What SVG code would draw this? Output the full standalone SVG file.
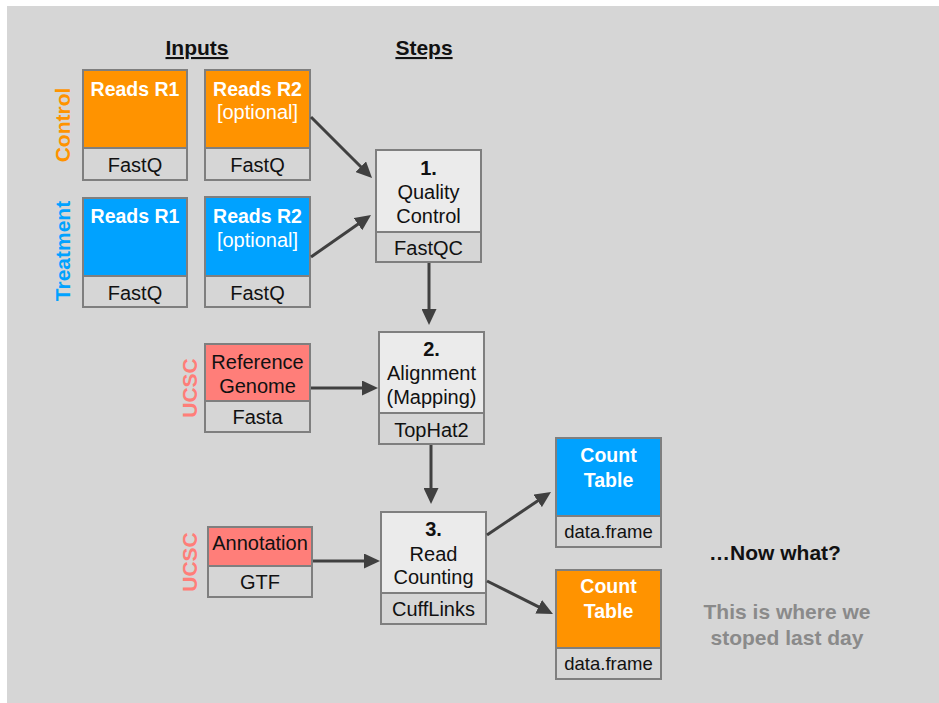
<svg xmlns="http://www.w3.org/2000/svg" width="939" height="703" viewBox="0 0 939 703">
<defs>
<style>
text{font-family:"Liberation Sans",Arial,Helvetica,sans-serif;}
.box{stroke:#7f7f7f;stroke-width:2;}
.sub{fill:#d6d6d6;}
.step{fill:#ebebeb;}
.or{fill:#ff9300;}
.bl{fill:#00a2ff;}
.rd{fill:#ff7e79;}
.wt{fill:#ffffff;font-weight:bold;font-size:19.5px;text-anchor:middle;}
.wn{fill:#ffffff;font-size:20px;text-anchor:middle;}
.bk{fill:#111;font-size:20px;text-anchor:middle;}
.bkb{fill:#111;font-size:20px;font-weight:bold;text-anchor:middle;}
.df{fill:#111;font-size:18.5px;text-anchor:middle;}
.hdr{fill:#111;font-size:21px;font-weight:bold;text-anchor:middle;text-decoration:underline;}
.side{font-size:21px;font-weight:bold;text-anchor:middle;}
.conn{stroke:#404040;stroke-width:3;fill:none;marker-end:url(#ah);}
</style>
<marker id="ah" markerUnits="userSpaceOnUse" markerWidth="16" markerHeight="15" refX="10" refY="7.5" orient="auto" viewBox="0 0 16 15">
<path d="M0,0 L16,7.5 L0,15 z" fill="#404040"/>
</marker>
</defs>
<rect x="7" y="6" width="932" height="697" fill="#d6d6d6"/>

<text class="hdr" x="197" y="55">Inputs</text>
<text class="hdr" x="424" y="55">Steps</text>

<text class="side" fill="#ff9300" transform="translate(70,125) rotate(-90)">Control</text>
<text class="side" fill="#00a2ff" transform="translate(70,251) rotate(-90)">Treatment</text>
<text class="side" fill="#ff7e79" transform="translate(197,388) rotate(-90)">UCSC</text>
<text class="side" fill="#ff7e79" transform="translate(197,562) rotate(-90)">UCSC</text>

<g id="control-r1">
<rect class="box or" x="83" y="70" width="104" height="78"/>
<rect class="box sub" x="83" y="148" width="104" height="32"/>
<text class="wt" x="135" y="96">Reads R1</text>
<text class="bk" x="135" y="172">FastQ</text>
</g>
<g id="control-r2">
<rect class="box or" x="205" y="70" width="105" height="78"/>
<rect class="box sub" x="205" y="148" width="105" height="32"/>
<text class="wt" x="257.5" y="96">Reads R2</text>
<text class="wn" x="257.5" y="119">[optional]</text>
<text class="bk" x="257.5" y="172">FastQ</text>
</g>
<g id="treatment-r1">
<rect class="box bl" x="83" y="198" width="104" height="78"/>
<rect class="box sub" x="83" y="276" width="104" height="31"/>
<text class="wt" x="135" y="223">Reads R1</text>
<text class="bk" x="135" y="300">FastQ</text>
</g>
<g id="treatment-r2">
<rect class="box bl" x="205" y="197" width="105" height="79"/>
<rect class="box sub" x="205" y="276" width="105" height="31"/>
<text class="wt" x="257.5" y="223">Reads R2</text>
<text class="wn" x="257.5" y="247">[optional]</text>
<text class="bk" x="257.5" y="300">FastQ</text>
</g>

<g id="step1">
<rect class="box step" x="376" y="150" width="105" height="82"/>
<rect class="box sub" x="376" y="232" width="105" height="30"/>
<text class="bkb" x="428.5" y="175">1.</text>
<text class="bk" x="428.5" y="199">Quality</text>
<text class="bk" x="428.5" y="223">Control</text>
<text class="bk" x="428.5" y="255">FastQC</text>
</g>

<g id="reference">
<rect class="box rd" x="205" y="344" width="105" height="57"/>
<rect class="box sub" x="205" y="401" width="105" height="31"/>
<text class="bk" x="257.5" y="369">Reference</text>
<text class="bk" x="257.5" y="393">Genome</text>
<text class="bk" x="257.5" y="424">Fasta</text>
</g>

<g id="step2">
<rect class="box step" x="379" y="332" width="105" height="81"/>
<rect class="box sub" x="379" y="413" width="105" height="31"/>
<text class="bkb" x="431.5" y="356">2.</text>
<text class="bk" x="431.5" y="380">Alignment</text>
<text class="bk" x="431.5" y="404">(Mapping)</text>
<text class="bk" x="431.5" y="437">TopHat2</text>
</g>

<g id="annotation">
<rect class="box rd" x="208" y="527" width="104" height="39"/>
<rect class="box sub" x="208" y="566" width="104" height="31"/>
<text class="bk" x="260" y="550">Annotation</text>
<text class="bk" x="260" y="589">GTF</text>
</g>

<g id="step3">
<rect class="box step" x="381" y="512" width="105" height="81"/>
<rect class="box sub" x="381" y="593" width="105" height="31"/>
<text class="bkb" x="433.5" y="536">3.</text>
<text class="bk" x="433.5" y="561">Read</text>
<text class="bk" x="433.5" y="584">Counting</text>
<text class="bk" x="433.5" y="616">CuffLinks</text>
</g>

<g id="count-blue">
<rect class="box bl" x="556" y="438" width="105" height="78"/>
<rect class="box sub" x="556" y="516" width="105" height="31"/>
<text class="wt" x="608.5" y="462">Count</text>
<text class="wt" x="608.5" y="487">Table</text>
<text class="df" x="608.5" y="538">data.frame</text>
</g>

<g id="count-orange">
<rect class="box or" x="556" y="570" width="105" height="78"/>
<rect class="box sub" x="556" y="648" width="105" height="31"/>
<text class="wt" x="608.5" y="593">Count</text>
<text class="wt" x="608.5" y="618">Table</text>
<text class="df" x="608.5" y="670">data.frame</text>
</g>

<g id="notes">
<text x="775" y="560" fill="#111" font-size="21" font-weight="bold" text-anchor="middle">…Now what?</text>
<text x="787" y="619" fill="#8a8a8a" font-size="21" font-weight="bold" text-anchor="middle">This is where we</text>
<text x="787" y="645" fill="#8a8a8a" font-size="21" font-weight="bold" text-anchor="middle">stoped last day</text>
</g>

<g id="connectors">
<line class="conn" x1="311" y1="117" x2="367.8" y2="173.8"/>
<line class="conn" x1="311" y1="257" x2="366.1" y2="218.4"/>
<line class="conn" x1="429" y1="263" x2="429" y2="319"/>
<line class="conn" x1="311" y1="388" x2="372" y2="388"/>
<line class="conn" x1="431" y1="445" x2="431" y2="498"/>
<line class="conn" x1="313" y1="561" x2="374" y2="561"/>
<line class="conn" x1="487" y1="535" x2="546" y2="495.3"/>
<line class="conn" x1="487" y1="581" x2="547.6" y2="611.3"/>
</g>
</svg>
